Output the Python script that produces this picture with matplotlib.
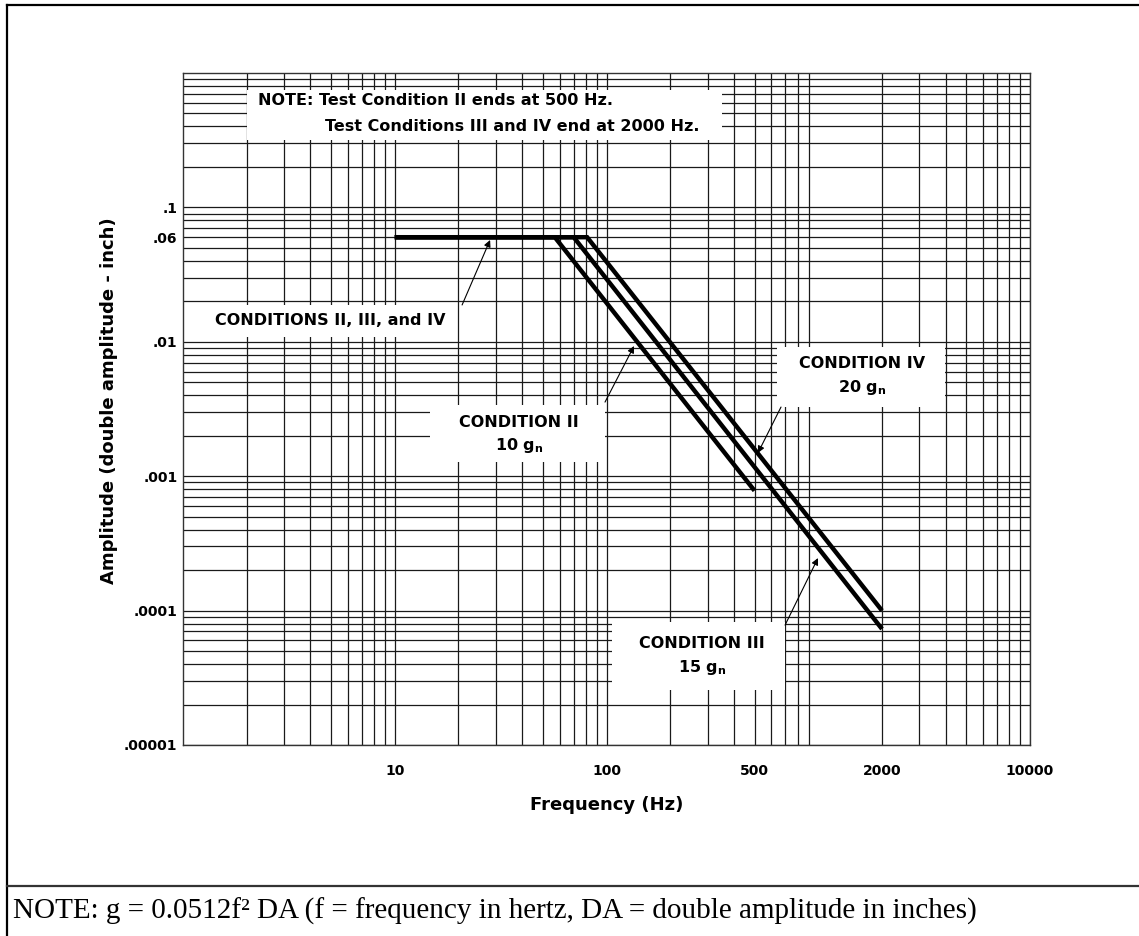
import numpy as np
import matplotlib
matplotlib.use("Agg")
import matplotlib.pyplot as plt
from matplotlib.lines import Line2D

# vibration test curves
freq_ii = [10, 57, 500]
amp_ii = [0.06, 0.06, 0.00078]
freq_iii = [10, 70, 2000]
amp_iii = [0.06, 0.06, 0.000073]
freq_iv = [10, 81, 2000]
amp_iv = [0.06, 0.06, 0.0001]

x_ticks = [10, 100, 500, 2000, 10000]
x_labels = ["10", "100", "500", "2000", "10000"]
y_ticks = [0.1, 0.06, 0.01, 0.001, 0.0001, 0.00001]
y_labels = [".1", ".06", ".01", ".001", ".0001", ".00001"]

plt.rcParams['font.family'] = ['DejaVu Sans']
plt.rcParams['mathtext.fontset'] = 'custom'
plt.rcParams['mathtext.rm'] = 'DejaVu Sans:bold'
plt.rcParams['mathtext.default'] = 'rm'

W, H = 1139, 936
fig = plt.figure(figsize=(W / 100, H / 100), dpi=100)
ax = fig.add_axes([183 / W, 1 - 745 / H, 847 / W, 672 / H])

ax.set_xscale('log')
ax.set_yscale('log')
ax.set_xlim(1, 10000)
ax.set_ylim(1e-5, 1)

ax.grid(which='both', color='#1a1a1a', linewidth=0.9, zorder=0)
ax.set_axisbelow(True)
for s in ax.spines.values():
    s.set_linewidth(1.0)
    s.set_color('#333333')

ax.set_xticks(x_ticks)
ax.set_xticklabels(x_labels)
ax.set_yticks(y_ticks)
ax.set_yticklabels(y_labels)
ax.xaxis.set_minor_formatter(matplotlib.ticker.NullFormatter())
ax.yaxis.set_minor_formatter(matplotlib.ticker.NullFormatter())
ax.tick_params(which='both', length=0, labelsize=10)
ax.tick_params(axis='x', pad=14)
ax.tick_params(axis='y', pad=4)
for lab in ax.get_xticklabels() + ax.get_yticklabels():
    lab.set_fontweight('bold')

ax.set_xlabel("Frequency (Hz)", fontsize=13, fontweight='bold', labelpad=13)
ax.set_ylabel("Amplitude (double amplitude - inch)", fontsize=13,
              fontweight='bold', labelpad=4)
ax.yaxis.label.set_y(0.513)


def white_box(x0, x1, y0, y1):
    ax.fill([x0, x1, x1, x0], [y0, y0, y1, y1], color='white', zorder=1,
            linewidth=0)


# white label areas on the log paper
white_box(2.0, 351, 0.317, 0.747)
white_box(1.0, 19.7, 0.01086, 0.0187)
white_box(14.7, 98.4, 0.00128, 0.00339)
white_box(639, 3969, 0.00327, 0.00915)
white_box(106, 697, 2.57e-5, 8.22e-5)

for fx, ay in [(freq_ii, amp_ii), (freq_iii, amp_iii), (freq_iv, amp_iv)]:
    ax.plot(fx, ay, color='black', linewidth=3.2, solid_capstyle='butt',
            solid_joinstyle='miter', zorder=3)

tkw = dict(fontsize=11.5, fontweight='bold', zorder=4)
ax.text(2.26, 0.619, "NOTE: Test Condition II ends at 500 Hz.", ha='left',
        va='center', **tkw)
ax.text(4.68, 0.403, "Test Conditions III and IV end at 2000 Hz.", ha='left',
        va='center', **tkw)

akw = dict(arrowstyle='-|>', color='black', lw=0.8, mutation_scale=10,
           shrinkA=0, shrinkB=0)
ax.annotate("", xy=(28.2, 0.0572), xytext=(20.8, 0.0188), arrowprops=akw,
            zorder=4)
ax.text(4.95, 0.0143, "CONDITIONS II, III, and IV", ha='center', va='center',
        **tkw)

ax.annotate("", xy=(134.9, 0.0093), xytext=(98.4, 0.00356), arrowprops=akw,
            zorder=4)
ax.text(38.6, 0.00203, "CONDITION II\n10 g$_{n}$", ha='center', va='center',
        linespacing=1.45, **tkw)

ax.annotate("", xy=(519, 0.00149), xytext=(667, 0.00327), arrowprops=akw,
            zorder=4)
ax.text(1609, 0.00552, "CONDITION IV\n20 g$_{n}$", ha='center', va='center',
        linespacing=1.45, **tkw)

ax.annotate("", xy=(997, 0.000246), xytext=(697, 7.8e-5), arrowprops=akw,
            zorder=4)
ax.text(282.5, 4.55e-5, "CONDITION III\n15 g$_{n}$", ha='center', va='center',
        linespacing=1.45, **tkw)

# page frame and note row
fig.add_artist(Line2D([7 / W, 1], [1 - 5 / H, 1 - 5 / H], color='black', lw=1.6))
fig.add_artist(Line2D([7 / W, 7 / W], [0, 1 - 5 / H], color='black', lw=1.6))
fig.add_artist(Line2D([7 / W, 1], [1 - 886 / H, 1 - 886 / H], color='#333333',
                      lw=1.6))
fig.text(13 / W, 1 - 911 / H,
         "NOTE: g = 0.0512f\u00b2 DA (f = frequency in hertz, DA = double amplitude in inches)",
         family='Liberation Serif', fontsize=21, ha='left', va='center')

fig.savefig("out.png", dpi=100)
